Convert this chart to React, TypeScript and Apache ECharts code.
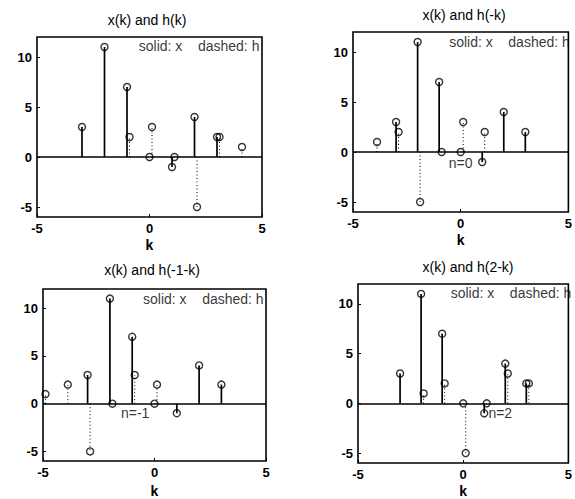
import React, { useEffect, useRef } from "react";
import * as echarts from "echarts";

// x(k): solid stems
const xK = [-3, -2, -1, 0, 1, 2, 3];
const xVals = [3, 11, 7, 0, -1, 4, 2];

// h folded / shifted: dashed stems
const h0K = [-1, 0, 1, 2, 3, 4];
const h0Vals = [2, 3, 0, -5, 2, 1];
const h1K = [-4, -3, -2, -1, 0, 1];
const h1Vals = [1, 2, -5, 0, 3, 2];
const h2K = [-5, -4, -3, -2, -1, 0];
const h2Vals = [1, 2, -5, 0, 3, 2];
const h3K = [-2, -1, 0, 1, 2, 3];
const h3Vals = [1, 2, -5, 0, 3, 2];

const titles = ["x(k) and h(k)", "x(k) and h(-k)", "x(k) and h(-1-k)", "x(k) and h(2-k)"];
const nLabels = ["", "n=0", "n=-1", "n=2"];
const nLabelPos = [null, [-0.6, -1.1], [-1.55, -1.0], [1.15, -1.0]];
const legendText = "solid: x    dashed: h";
const legendPos = [[-0.52, 11.1], [-0.58, 11.0], [-0.56, 10.95], [-0.64, 11.1]];

const xTicks = [-5, 0, 5];
const yTicks = [-5, 0, 5, 10];

const hK = [h0K, h1K, h2K, h3K];
const hVals = [h0Vals, h1Vals, h2Vals, h3Vals];

const layout = [
  { left: 37, top: 37, width: 225, height: 180, tx: 147, ty: 20, gap: 21 },
  { left: 353, top: 32, width: 230, height: 180, tx: 464, ty: 15, gap: 21 },
  { left: 43, top: 289, width: 223, height: 179, tx: 152, ty: 270, gap: 23 },
  { left: 358, top: 284, width: 230, height: 180, tx: 468, ty: 267, gap: 21 },
];

const FONT = "'Liberation Sans', Arial, sans-serif";
const H_DX = 2.5;

function stemRenderer(dx: number, dotted: boolean) {
  return (params: any, api: any) => {
    const k = api.value(0);
    const v = api.value(1);
    const a = api.coord([k, 0]);
    const b = api.coord([k, v]);
    return {
      type: "line",
      shape: { x1: a[0] + dx, y1: a[1], x2: b[0] + dx, y2: b[1] },
      style: {
        stroke: "#000",
        lineWidth: dotted ? 1 : 1.7,
        lineDash: dotted ? [1, 2.5] : null,
      },
    };
  };
}

export default function App() {
  const ref = useRef<HTMLDivElement>(null);
  useEffect(() => {
    if (!ref.current) return;
    const chart = echarts.init(ref.current, null, { renderer: "svg" });
    const series: any[] = [];
    layout.forEach((_, i) => {
      const xData = xK.map((k, j) => [k, xVals[j]]);
      const hData = hK[i].map((k, j) => [k, hVals[i][j]]);
      series.push({
        type: "custom",
        xAxisIndex: i,
        yAxisIndex: i,
        silent: true,
        data: hData,
        renderItem: stemRenderer(H_DX, true),
        z: 2,
      });
      series.push({
        type: "custom",
        xAxisIndex: i,
        yAxisIndex: i,
        silent: true,
        data: xData,
        renderItem: stemRenderer(0, false),
        z: 2,
      });
      series.push({
        type: "scatter",
        xAxisIndex: i,
        yAxisIndex: i,
        silent: true,
        data: xData,
        symbol: "circle",
        symbolSize: 7,
        itemStyle: { color: "rgba(0,0,0,0)", borderColor: "#000", borderWidth: 1.4 },
        z: 3,
        markLine: {
          silent: true,
          symbol: ["none", "none"],
          label: { show: false },
          lineStyle: { color: "#000", type: "solid", width: 1.5 },
          data: [{ yAxis: 0 }],
        },
      });
      series.push({
        type: "scatter",
        xAxisIndex: i,
        yAxisIndex: i,
        silent: true,
        data: hData,
        symbol: "circle",
        symbolSize: 7,
        symbolOffset: [H_DX, 0],
        itemStyle: { color: "rgba(0,0,0,0)", borderColor: "#000", borderWidth: 1.4 },
        z: 3,
      });
      const ann: any[] = [{ name: legendText, value: legendPos[i] }];
      if (nLabelPos[i]) ann.push({ name: nLabels[i], value: nLabelPos[i] });
      series.push({
        type: "scatter",
        xAxisIndex: i,
        yAxisIndex: i,
        silent: true,
        symbolSize: 1,
        itemStyle: { color: "rgba(0,0,0,0)", borderColor: "rgba(0,0,0,0)" },
        data: ann,
        label: {
          show: true,
          position: "right",
          distance: 0,
          formatter: "{b}",
          color: "#000",
          fontSize: 14,
          fontFamily: FONT,
        },
        z: 4,
      });
    });

    const option: any = {
      animation: false,
      backgroundColor: "#fff",
      textStyle: { fontFamily: FONT },
      grid: layout.map((l) => ({
        left: l.left,
        top: l.top,
        width: l.width,
        height: l.height,
        show: true,
        borderColor: "#000",
        borderWidth: 1.6,
        backgroundColor: "transparent",
      })),
      xAxis: layout.map((l, i) => ({
        gridIndex: i,
        type: "value",
        position: "bottom",
        min: -5,
        max: 5,
        interval: 5,
        name: "k",
        nameLocation: "middle",
        nameGap: l.gap,
        nameTextStyle: { color: "#000", fontWeight: "bold", fontSize: 14, fontFamily: FONT, verticalAlign: "top" },
        axisLine: { show: false, onZero: false },
        axisTick: { show: true, inside: true, length: 3, lineStyle: { color: "#000" }, customValues: xTicks },
        splitLine: { show: false },
        axisLabel: { color: "#000", fontWeight: "bold", fontSize: 13, margin: 5, fontFamily: FONT, customValues: xTicks },
      })),
      yAxis: layout.map((_, i) => ({
        gridIndex: i,
        type: "value",
        position: "left",
        min: -6,
        max: 12,
        axisLine: { show: false, onZero: false },
        axisTick: { show: true, inside: true, length: 3, lineStyle: { color: "#000" }, customValues: yTicks },
        splitLine: { show: false },
        axisLabel: { color: "#000", fontWeight: "bold", fontSize: 13, margin: 5, fontFamily: FONT, customValues: yTicks },
      })),
      graphic: layout.map((l, i) => ({
        type: "text",
        x: l.tx,
        y: l.ty,
        style: {
          text: titles[i],
          fill: "#000",
          font: `14px ${FONT}`,
          align: "center",
          verticalAlign: "middle",
        },
      })),
      series,
    };
    chart.setOption(option);
    return () => chart.dispose();
  }, []);
  return (
    <div
      ref={ref}
      style={{ position: "absolute", left: 0, top: 0, width: 575, height: 499, background: "#fff" }}
    />
  );
}
